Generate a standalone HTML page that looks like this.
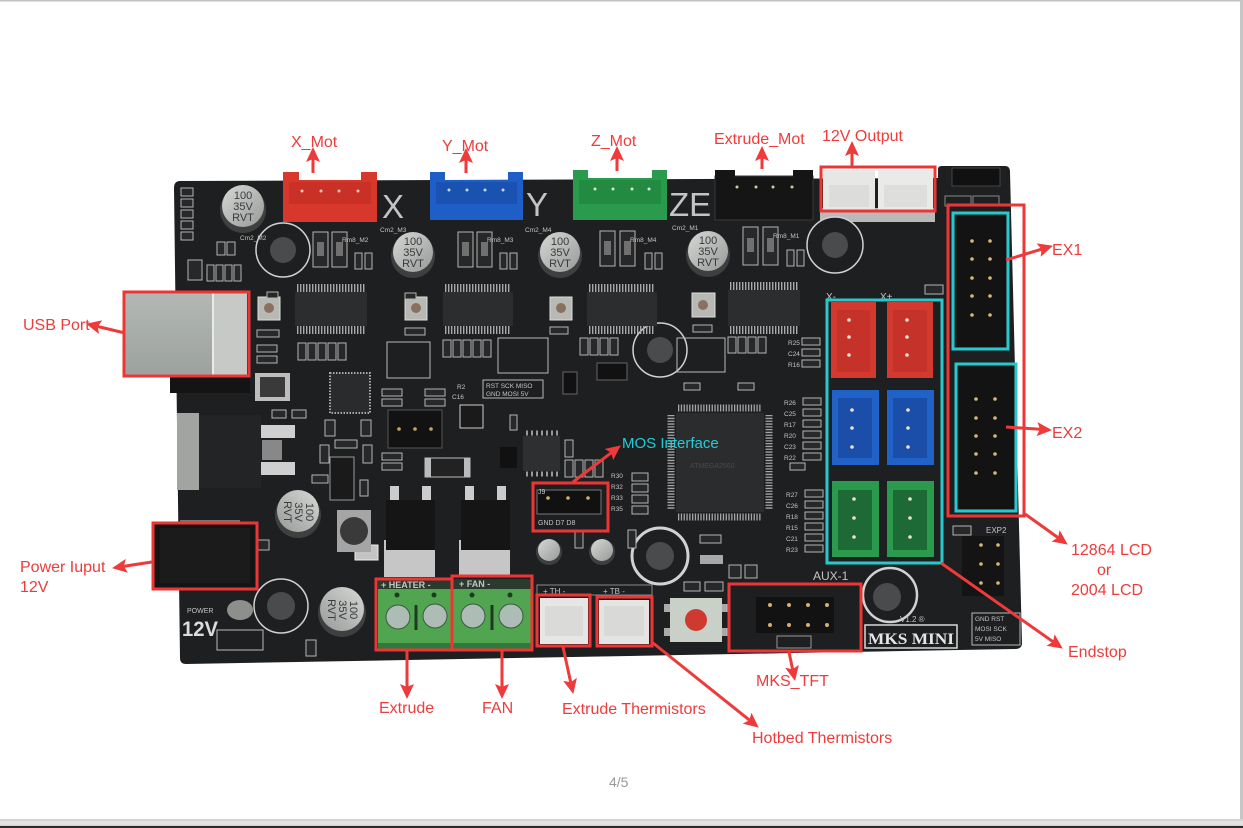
<!DOCTYPE html>
<html><head><meta charset="utf-8"><style>
html,body{margin:0;padding:0;background:#fff}
svg{display:block}
.lb{font-family:"Liberation Sans",sans-serif;font-size:16px;fill:#ee3b3b}
.sk{font-family:"Liberation Sans",sans-serif;fill:#c4c4c4}
.s{fill:#27282a;stroke:#b4b4b4;stroke-width:1}
.r{fill:#5e5e5e;stroke:#c9c9c9;stroke-width:1}
.bx{fill:none;stroke:#ee3535;stroke-width:3}
.cy{fill:none;stroke:#27c9cc;stroke-width:3}
.ar{stroke:#ee3a3a;stroke-width:3;fill:none}
</style></head><body>
<svg width="1243" height="828" viewBox="0 0 1243 828" xmlns="http://www.w3.org/2000/svg">
<defs>
<marker id="ah" markerUnits="userSpaceOnUse" markerWidth="16" markerHeight="14" refX="3" refY="7" orient="auto"><path d="M0,0 L15,7 L0,14 L3,7Z" fill="#ee3a3a"/></marker>
<linearGradient id="sv" x1="0" y1="0" x2="1" y2="1"><stop offset="0" stop-color="#d6d8d6"/><stop offset="1" stop-color="#979a98"/></linearGradient>
<linearGradient id="usb" x1="0" y1="0" x2="0" y2="1"><stop offset="0" stop-color="#b3b8b4"/><stop offset="1" stop-color="#9da29e"/></linearGradient>
</defs>
<rect width="1243" height="828" fill="#fff"/>
<rect x="0" y="0" width="1243" height="1.5" fill="#c2c2c2"/>
<rect x="1240" y="0" width="3" height="826" fill="#c6c6c6"/>
<rect x="0" y="819" width="1243" height="7" fill="#d3d3d3"/>
<rect x="0" y="821" width="1243" height="4" fill="#e2e2e2"/>
<rect x="0" y="826" width="1243" height="2" fill="#2a2a2a"/>

<!-- board -->
<path d="M180,181 L938,178 L938,169 Q938,166 942,166 L1005,166 Q1010,166 1010,172 L1022,643 Q1022,649 1015,649 L186,664 Q180,664 180,658 L174,188 Q174,181 180,181Z" fill="#1e1f21"/>

<!-- top connectors -->
<rect x="283" y="180" width="94" height="42" fill="#d8382c"/>
<rect x="283" y="172" width="16" height="12" fill="#d8382c"/><rect x="361" y="172" width="16" height="12" fill="#d8382c"/>
<rect x="289" y="182" width="82" height="22" fill="#c93126"/>
<g fill="#e8c8b8"><circle cx="302" cy="191" r="1.5"/><circle cx="321" cy="191" r="1.5"/><circle cx="339" cy="191" r="1.5"/><circle cx="358" cy="191" r="1.5"/></g>
<rect x="430" y="180" width="93" height="40" fill="#1f5ec6"/>
<rect x="430" y="172" width="15" height="12" fill="#1f5ec6"/><rect x="508" y="172" width="15" height="12" fill="#1f5ec6"/>
<rect x="436" y="182" width="81" height="22" fill="#1a52b2"/>
<g fill="#c8d4f0"><circle cx="449" cy="190" r="1.5"/><circle cx="467" cy="190" r="1.5"/><circle cx="485" cy="190" r="1.5"/><circle cx="503" cy="190" r="1.5"/></g>
<rect x="573" y="178" width="94" height="42" fill="#2a9a4c"/>
<rect x="573" y="170" width="15" height="12" fill="#2a9a4c"/><rect x="652" y="170" width="15" height="12" fill="#2a9a4c"/>
<rect x="579" y="180" width="82" height="24" fill="#238a42"/>
<g fill="#d0e8d0"><circle cx="595" cy="189" r="1.5"/><circle cx="613" cy="189" r="1.5"/><circle cx="632" cy="189" r="1.5"/><circle cx="649" cy="189" r="1.5"/></g>
<rect x="715" y="176" width="98" height="44" fill="#151516" stroke="#3a3a3a"/>
<rect x="715" y="170" width="20" height="10" fill="#151516"/><rect x="793" y="170" width="20" height="10" fill="#151516"/>
<g fill="#d8c8a8"><circle cx="737" cy="187" r="1.5"/><circle cx="756" cy="187" r="1.5"/><circle cx="773" cy="187" r="1.5"/><circle cx="792" cy="187" r="1.5"/></g>
<rect x="820" y="208" width="115" height="14" fill="#b9b9b9"/>
<rect x="823" y="170" width="52" height="40" fill="#e7e7e5"/>
<rect x="878" y="170" width="55" height="40" fill="#eaeae8"/>
<rect x="829" y="185" width="40" height="22" fill="#dcdcda"/><rect x="884" y="185" width="43" height="22" fill="#dededc"/>
<text class="sk" x="382" y="218" font-size="33">X</text>
<text class="sk" x="526" y="216" font-size="33">Y</text>
<text class="sk" x="669" y="216" font-size="33">ZE</text>

<!-- top right jumper -->
<rect x="952" y="168" width="48" height="18" fill="#111" stroke="#444"/>
<rect x="945" y="196" width="26" height="10" fill="none" stroke="#888"/><rect x="973" y="196" width="26" height="10" fill="none" stroke="#888"/>

<!-- mounting holes -->
<g stroke="#d2d2d2" stroke-width="1.5" fill="#1e1f21">
<circle cx="283" cy="250" r="27"/><circle cx="835" cy="245" r="28"/><circle cx="660" cy="350" r="27"/>
<circle cx="660" cy="556" r="28" stroke-width="3"/><circle cx="890" cy="595" r="27" stroke-width="2.5"/><circle cx="281" cy="606" r="27"/>
</g>
<g fill="#4a4b4c"><circle cx="283" cy="250" r="13"/><circle cx="835" cy="245" r="13"/><circle cx="660" cy="350" r="13"/><circle cx="660" cy="556" r="14"/><circle cx="887" cy="597" r="14"/><circle cx="281" cy="606" r="14"/></g>

<!-- capacitors -->
<g font-family="Liberation Sans,sans-serif" font-size="11" fill="#3a3a3a" text-anchor="middle">
<g transform="translate(243,207)"><circle cy="3" r="23" fill="#3e4040"/><circle cy="-1" r="21" fill="url(#sv)"/><text y="-8">100</text><text y="3">35V</text><text y="14">RVT</text></g>
<g transform="translate(413,253)"><circle cy="3" r="22" fill="#3e4040"/><circle cy="-1" r="20" fill="url(#sv)"/><text y="-8">100</text><text y="3">35V</text><text y="14">RVT</text></g>
<g transform="translate(560,253)"><circle cy="3" r="22" fill="#3e4040"/><circle cy="-1" r="20" fill="url(#sv)"/><text y="-8">100</text><text y="3">35V</text><text y="14">RVT</text></g>
<g transform="translate(708,252)"><circle cy="3" r="22" fill="#3e4040"/><circle cy="-1" r="20" fill="url(#sv)"/><text y="-8">100</text><text y="3">35V</text><text y="14">RVT</text></g>
<g transform="translate(298,512) rotate(90)"><circle cx="3" r="23" fill="#3e4040"/><circle cx="-1" r="21" fill="url(#sv)"/><text y="-8">100</text><text y="3">35V</text><text y="14">RVT</text></g>
<g transform="translate(342,610) rotate(90)"><circle cx="3" r="24" fill="#3e4040"/><circle cx="-1" r="22" fill="url(#sv)"/><text y="-8">100</text><text y="3">35V</text><text y="14">RVT</text></g>
</g>
<circle cx="549" cy="552" r="13" fill="#3e4040"/><circle cx="549" cy="550" r="11" fill="url(#sv)"/>
<circle cx="602" cy="552" r="13" fill="#3e4040"/><circle cx="602" cy="550" r="11" fill="url(#sv)"/>
<ellipse cx="240" cy="610" rx="13" ry="10" fill="#8d8f8d"/>

<!-- driver chips -->
<g>
<rect x="295" y="292" width="72" height="34" fill="#2c2d2f"/>
<rect x="443" y="292" width="70" height="34" fill="#2c2d2f"/>
<rect x="587" y="292" width="70" height="34" fill="#2c2d2f"/>
<rect x="728" y="290" width="72" height="36" fill="#2c2d2f"/>
</g>
<g stroke="#a9a9a9" stroke-width="8" stroke-dasharray="1.4 1.6">
<line x1="297" y1="288" x2="365" y2="288"/><line x1="297" y1="330" x2="365" y2="330"/>
<line x1="445" y1="288" x2="511" y2="288"/><line x1="445" y1="330" x2="511" y2="330"/>
<line x1="589" y1="288" x2="655" y2="288"/><line x1="589" y1="330" x2="655" y2="330"/>
<line x1="730" y1="286" x2="798" y2="286"/><line x1="730" y1="330" x2="798" y2="330"/>
</g>

<!-- MCU -->
<rect x="676" y="413" width="88" height="99" fill="#2b2c2e"/>
<g stroke="#a6a6a6" stroke-width="7" stroke-dasharray="1.3 1.5">
<line x1="678" y1="408" x2="762" y2="408"/><line x1="678" y1="517" x2="762" y2="517"/>
<line x1="671" y1="415" x2="671" y2="510"/><line x1="769" y1="415" x2="769" y2="510"/>
</g>
<text x="690" y="468" font-family="Liberation Sans,sans-serif" font-size="7" fill="#4a4a4a">ATMEGA2560</text>

<!-- small ICs -->
<rect x="330" y="373" width="40" height="40" fill="#2a2b2d" stroke="#aaa" stroke-dasharray="1.5 1.5" stroke-width="2"/>
<rect x="523" y="436" width="37" height="35" fill="#2e2f31"/>
<g stroke="#999" stroke-width="5" stroke-dasharray="2 3"><line x1="526" y1="433" x2="558" y2="433"/><line x1="526" y1="474" x2="558" y2="474"/></g>
<rect x="563" y="372" width="14" height="22" fill="#111" stroke="#666"/>
<rect x="597" y="363" width="30" height="17" fill="#111" stroke="#666"/>

<!-- trimmers -->
<g fill="#b8b8b4" stroke="#ddd"><rect x="258" y="297" width="22" height="23"/><rect x="405" y="297" width="22" height="23"/><rect x="550" y="297" width="22" height="23"/><rect x="692" y="293" width="23" height="24"/></g>
<g fill="#8a7060"><circle cx="269" cy="308" r="5"/><circle cx="416" cy="308" r="5"/><circle cx="561" cy="308" r="5"/><circle cx="703" cy="305" r="5"/></g>

<!-- big SMD near drivers -->
<g class="s">
<rect x="313" y="232" width="15" height="35"/><rect x="332" y="232" width="15" height="35"/>
<rect x="458" y="232" width="15" height="35"/><rect x="477" y="232" width="15" height="35"/>
<rect x="600" y="231" width="15" height="35"/><rect x="620" y="231" width="15" height="35"/>
<rect x="743" y="227" width="15" height="38"/><rect x="763" y="227" width="15" height="38"/>
</g>
<g fill="#707070"><rect x="317" y="242" width="7" height="14"/><rect x="336" y="242" width="7" height="14"/><rect x="462" y="242" width="7" height="14"/><rect x="481" y="242" width="7" height="14"/><rect x="604" y="241" width="7" height="14"/><rect x="624" y="241" width="7" height="14"/><rect x="747" y="238" width="7" height="14"/><rect x="767" y="238" width="7" height="14"/></g>

<!-- small SMD scatter -->
<g class="s">
<rect x="181" y="188" width="12" height="8"/><rect x="181" y="199" width="12" height="8"/><rect x="181" y="210" width="12" height="8"/><rect x="181" y="221" width="12" height="8"/><rect x="181" y="232" width="12" height="8"/>
<rect x="217" y="242" width="8" height="13"/><rect x="227" y="242" width="8" height="13"/>
<rect x="188" y="260" width="14" height="20"/>
<rect x="207" y="265" width="7" height="16"/><rect x="216" y="265" width="7" height="16"/><rect x="225" y="265" width="7" height="16"/><rect x="234" y="265" width="7" height="16"/>
<rect x="355" y="253" width="7" height="16"/><rect x="365" y="253" width="7" height="16"/>
<rect x="500" y="253" width="7" height="16"/><rect x="510" y="253" width="7" height="16"/>
<rect x="645" y="253" width="7" height="16"/><rect x="655" y="253" width="7" height="16"/>
<rect x="787" y="250" width="7" height="16"/><rect x="797" y="250" width="7" height="16"/>
<rect x="267" y="292" width="11" height="6"/><rect x="405" y="293" width="11" height="6"/>
<rect x="257" y="330" width="22" height="7"/><rect x="257" y="345" width="20" height="7"/><rect x="257" y="356" width="20" height="7"/>
<rect x="405" y="328" width="20" height="7"/><rect x="550" y="327" width="18" height="7"/><rect x="693" y="325" width="19" height="7"/>
<rect x="298" y="343" width="8" height="17"/><rect x="308" y="343" width="8" height="17"/><rect x="318" y="343" width="8" height="17"/><rect x="328" y="343" width="8" height="17"/><rect x="338" y="343" width="8" height="17"/>
<rect x="443" y="340" width="8" height="17"/><rect x="453" y="340" width="8" height="17"/><rect x="463" y="340" width="8" height="17"/><rect x="473" y="340" width="8" height="17"/><rect x="483" y="340" width="8" height="17"/>
<rect x="580" y="338" width="8" height="17"/><rect x="590" y="338" width="8" height="17"/><rect x="600" y="338" width="8" height="17"/><rect x="610" y="338" width="8" height="17"/>
<rect x="728" y="337" width="8" height="16"/><rect x="738" y="337" width="8" height="16"/><rect x="748" y="337" width="8" height="16"/><rect x="758" y="337" width="8" height="16"/>
<rect x="382" y="389" width="20" height="7"/><rect x="382" y="399" width="20" height="7"/>
<rect x="425" y="389" width="20" height="7"/><rect x="425" y="399" width="20" height="7"/>
<rect x="382" y="453" width="20" height="7"/><rect x="382" y="463" width="20" height="7"/>
<rect x="510" y="415" width="7" height="15"/>
<rect x="565" y="440" width="8" height="17"/><rect x="575" y="460" width="8" height="17"/><rect x="585" y="460" width="8" height="17"/><rect x="595" y="460" width="8" height="17"/><rect x="565" y="460" width="8" height="17"/>
<rect x="632" y="473" width="16" height="8"/><rect x="632" y="484" width="16" height="8"/><rect x="632" y="495" width="16" height="8"/><rect x="632" y="506" width="16" height="8"/>
<rect x="802" y="338" width="18" height="7"/><rect x="802" y="349" width="18" height="7"/><rect x="802" y="360" width="18" height="7"/>
<rect x="803" y="398" width="18" height="7"/><rect x="803" y="409" width="18" height="7"/><rect x="803" y="420" width="18" height="7"/><rect x="803" y="431" width="18" height="7"/><rect x="803" y="442" width="18" height="7"/><rect x="803" y="453" width="18" height="7"/>
<rect x="790" y="463" width="15" height="7"/>
<rect x="805" y="490" width="18" height="7"/><rect x="805" y="501" width="18" height="7"/><rect x="805" y="512" width="18" height="7"/><rect x="805" y="523" width="18" height="7"/><rect x="805" y="534" width="18" height="7"/><rect x="805" y="545" width="18" height="7"/>
<rect x="684" y="383" width="16" height="7"/><rect x="738" y="383" width="16" height="7"/>
<rect x="700" y="535" width="21" height="8"/><rect x="729" y="565" width="12" height="13"/><rect x="745" y="565" width="12" height="13"/>
<rect x="684" y="582" width="16" height="9"/><rect x="705" y="582" width="18" height="9"/>
<rect x="272" y="410" width="14" height="8"/><rect x="292" y="410" width="14" height="8"/>
<rect x="325" y="420" width="10" height="16"/><rect x="361" y="420" width="10" height="16"/>
<rect x="320" y="445" width="9" height="18"/><rect x="363" y="445" width="9" height="18"/><rect x="335" y="440" width="22" height="8"/>
<rect x="312" y="475" width="16" height="8"/><rect x="360" y="480" width="8" height="16"/>
<rect x="575" y="530" width="8" height="18"/><rect x="628" y="530" width="8" height="18"/>
<rect x="253" y="540" width="16" height="10"/>
<rect x="925" y="285" width="18" height="9"/>
<rect x="953" y="526" width="18" height="9"/>
<rect x="306" y="640" width="10" height="16"/>
</g>
<rect x="700" y="555" width="23" height="9" fill="#a8a8a8"/>
<rect x="355" y="545" width="23" height="15" fill="#c4c4c4" stroke="#eee"/>
<rect x="217" y="630" width="46" height="20" fill="#1e1f21" stroke="#bbb"/>

<!-- silk text boxes -->
<g fill="none" stroke="#b8b8b8"><rect x="387" y="342" width="43" height="36"/><rect x="498" y="338" width="50" height="35"/><rect x="677" y="338" width="48" height="34"/><rect x="483" y="380" width="60" height="18"/><rect x="972" y="613" width="48" height="32"/><rect x="865" y="625" width="92" height="23" stroke="#d8d8d8" stroke-width="1.5"/></g>
<g class="sk" font-size="6.5"><text x="486" y="388">RST SCK MISO</text><text x="486" y="396">GND MOSI 5V</text><text x="975" y="621">GND RST</text><text x="975" y="631">MOSI SCK</text><text x="975" y="641">5V  MISO</text>
<text x="342" y="242">Rm8_M2</text><text x="487" y="242">Rm8_M3</text><text x="630" y="242">Rm8_M4</text><text x="773" y="238">Rm8_M1</text>
<text x="240" y="240">Cm2_M2</text><text x="380" y="232">Cm2_M3</text><text x="525" y="232">Cm2_M4</text><text x="672" y="230">Cm2_M1</text>
<text x="788" y="345">R25</text><text x="788" y="356">C24</text><text x="788" y="367">R16</text>
<text x="784" y="405">R26</text><text x="784" y="416">C25</text><text x="784" y="427">R17</text><text x="784" y="438">R20</text><text x="784" y="449">C23</text><text x="784" y="460">R22</text>
<text x="786" y="497">R27</text><text x="786" y="508">C26</text><text x="786" y="519">R18</text><text x="786" y="530">R15</text><text x="786" y="541">C21</text><text x="786" y="552">R23</text>
<text x="611" y="478">R30</text><text x="611" y="489">R32</text><text x="611" y="500">R33</text><text x="611" y="511">R35</text>
<text x="400" y="416">ISP1</text><text x="457" y="389">R2</text><text x="452" y="399">C16</text>
</g>
<text class="sk" x="813" y="580" font-size="12">AUX-1</text>
<text class="sk" x="986" y="533" font-size="8">EXP2</text>
<text class="sk" x="900" y="622" font-size="8">V1.2 ®</text>
<text x="868" y="644" font-family="Liberation Serif,serif" font-weight="bold" font-size="16" fill="#e6e6e6" textLength="86" lengthAdjust="spacingAndGlyphs">MKS MINI</text>
<text class="sk" x="187" y="613" font-size="7">POWER</text>
<text x="182" y="636" font-family="Liberation Sans,sans-serif" font-weight="bold" font-size="21" fill="#dcdcdc" textLength="36" lengthAdjust="spacingAndGlyphs">12V</text>

<!-- USB -->
<rect x="170" y="375" width="80" height="18" fill="#141414"/>
<rect x="125" y="293" width="88" height="82" fill="url(#usb)"/>
<rect x="213" y="293" width="34" height="82" fill="#c6c9c6"/>
<rect x="212" y="293" width="2" height="82" fill="#e8ebe8"/>

<!-- U3 regulator -->
<rect x="177" y="413" width="22" height="77" fill="#a2a4a2"/>
<rect x="199" y="415" width="62" height="73" fill="#232425"/>
<rect x="261" y="425" width="34" height="13" fill="#cfcfcf"/><rect x="261" y="462" width="34" height="13" fill="#cfcfcf"/>
<rect x="262" y="440" width="20" height="20" fill="#888"/>
<rect x="255" y="373" width="35" height="28" fill="#bdbdbd"/><rect x="260" y="377" width="25" height="20" fill="#3a3a3a"/>
<rect x="330" y="457" width="24" height="43" fill="#1a1a1a" stroke="#999"/>

<!-- inductor -->
<rect x="337" y="510" width="34" height="42" fill="#a5a5a5"/><circle cx="354" cy="531" r="14" fill="#3a3a3a"/>

<!-- power jack -->
<rect x="180" y="520" width="60" height="8" fill="#777"/>
<rect x="153" y="523" width="104" height="67" fill="#141414"/>
<rect x="160" y="528" width="90" height="55" fill="#1b1b1b"/>

<!-- ISP header & fuse -->
<rect x="388" y="410" width="54" height="38" fill="#121212" stroke="#555"/>
<g fill="#c8a860"><circle cx="399" cy="429" r="1.8"/><circle cx="415" cy="429" r="1.8"/><circle cx="431" cy="429" r="1.8"/></g>
<rect x="460" y="405" width="23" height="23" fill="#1a1a1a" stroke="#ccc"/>
<rect x="425" y="458" width="45" height="19" fill="#222" stroke="#bbb"/>
<rect x="425" y="458" width="6" height="19" fill="#bbb"/><rect x="464" y="458" width="6" height="19" fill="#bbb"/>
<rect x="500" y="447" width="17" height="21" fill="#111"/>

<!-- MOSFETs -->
<rect x="384" y="540" width="51" height="37" fill="#c6c6c6"/>
<rect x="386" y="500" width="49" height="50" fill="#151515"/>
<rect x="390" y="486" width="9" height="14" fill="#ccc"/><rect x="422" y="486" width="9" height="14" fill="#ccc"/>
<rect x="459" y="540" width="51" height="37" fill="#c6c6c6"/>
<rect x="461" y="500" width="49" height="50" fill="#151515"/>
<rect x="465" y="486" width="9" height="14" fill="#ccc"/><rect x="497" y="486" width="9" height="14" fill="#ccc"/>

<!-- J9 MOS header -->
<rect x="537" y="490" width="64" height="24" fill="#111" stroke="#777"/>
<g fill="#d0b070"><circle cx="548" cy="498" r="1.8"/><circle cx="568" cy="498" r="1.8"/><circle cx="588" cy="498" r="1.8"/></g>
<g class="sk" font-size="7"><text x="538" y="525">GND D7 D8</text><text x="538" y="494">J9</text></g>

<!-- terminal blocks -->
<rect x="378" y="579" width="155" height="11" fill="#2a3a2c"/>
<rect x="378" y="589" width="155" height="58" fill="#51a550"/>
<rect x="378" y="643" width="155" height="6" fill="#2e7a3a"/>
<line x1="452" y1="589" x2="452" y2="648" stroke="#2d6a32" stroke-width="2"/>
<g fill="#1e3a20"><circle cx="397" cy="595" r="2.5"/><circle cx="434" cy="595" r="2.5"/><circle cx="472" cy="595" r="2.5"/><circle cx="510" cy="595" r="2.5"/></g>
<g fill="#aebcb6" stroke="#3a5a40"><circle cx="398" cy="617" r="12"/><circle cx="435" cy="616" r="12"/><circle cx="473" cy="616" r="12"/><circle cx="511" cy="616" r="12"/></g>
<g stroke="#1d3a20" stroke-width="3"><line x1="416" y1="605" x2="416" y2="630"/><line x1="492" y1="605" x2="492" y2="630"/></g>
<g class="sk" font-size="9" font-weight="bold" fill="#e0e0e0"><text x="381" y="588">+ HEATER -</text><text x="459" y="587">+  FAN   -</text></g>

<!-- thermistor connectors -->
<rect x="537" y="585" width="115" height="10" fill="#1e1f21" stroke="#888"/>
<rect x="540" y="598" width="48" height="46" fill="#e6e6e4"/>
<rect x="599" y="600" width="50" height="44" fill="#e4e4e2"/>
<rect x="545" y="606" width="38" height="30" fill="#dadad8"/><rect x="604" y="606" width="40" height="30" fill="#d9d9d7"/>
<g class="sk" font-size="8"><text x="543" y="594">+ TH -</text><text x="603" y="594">+ TB -</text></g>

<!-- reset button -->
<rect x="664" y="604" width="64" height="8" fill="#aaa"/><rect x="664" y="628" width="64" height="8" fill="#aaa"/>
<rect x="670" y="598" width="52" height="44" fill="#c8d0c8"/>
<circle cx="696" cy="620" r="11" fill="#cf3a30"/>

<!-- AUX header -->
<rect x="756" y="597" width="78" height="36" fill="#121212"/>
<g fill="#d4b070"><circle cx="770" cy="605" r="2"/><circle cx="789" cy="605" r="2"/><circle cx="808" cy="605" r="2"/><circle cx="827" cy="605" r="2"/><circle cx="770" cy="625" r="2"/><circle cx="789" cy="625" r="2"/><circle cx="808" cy="625" r="2"/><circle cx="827" cy="625" r="2"/></g>
<rect x="777" y="636" width="34" height="12" fill="none" stroke="#999"/>

<!-- endstops -->
<rect x="831" y="302" width="45" height="76" fill="#d4392f"/><rect x="837" y="310" width="33" height="62" fill="#c5322a"/>
<rect x="887" y="302" width="46" height="76" fill="#d4392f"/><rect x="893" y="310" width="34" height="62" fill="#c5322a"/>
<rect x="832" y="390" width="47" height="75" fill="#2162c8"/><rect x="838" y="398" width="34" height="60" fill="#1a4ea8"/>
<rect x="887" y="390" width="47" height="75" fill="#2162c8"/><rect x="893" y="398" width="34" height="60" fill="#1a4ea8"/>
<rect x="832" y="481" width="47" height="76" fill="#2a9a4c"/><rect x="838" y="490" width="34" height="60" fill="#1d6a36"/>
<rect x="887" y="481" width="47" height="76" fill="#2a9a4c"/><rect x="893" y="490" width="34" height="60" fill="#1d6a36"/>
<g fill="#f0e0d0"><circle cx="849" cy="320" r="1.8"/><circle cx="849" cy="337" r="1.8"/><circle cx="849" cy="355" r="1.8"/><circle cx="907" cy="320" r="1.8"/><circle cx="907" cy="337" r="1.8"/><circle cx="907" cy="355" r="1.8"/>
<circle cx="852" cy="410" r="1.8"/><circle cx="852" cy="428" r="1.8"/><circle cx="852" cy="447" r="1.8"/><circle cx="908" cy="410" r="1.8"/><circle cx="908" cy="428" r="1.8"/><circle cx="908" cy="447" r="1.8"/>
<circle cx="854" cy="499" r="1.8"/><circle cx="854" cy="518" r="1.8"/><circle cx="854" cy="537" r="1.8"/><circle cx="910" cy="499" r="1.8"/><circle cx="910" cy="518" r="1.8"/><circle cx="910" cy="537" r="1.8"/></g>
<g class="sk" font-size="10"><text x="826" y="300">X-</text><text x="880" y="300">X+</text></g>

<!-- EXP headers -->
<rect x="957" y="216" width="49" height="131" fill="#131314"/>
<rect x="959" y="367" width="55" height="142" fill="#131314"/>
<g fill="#d8b878"><circle cx="972" cy="241" r="1.8"/><circle cx="990" cy="241" r="1.8"/><circle cx="972" cy="259" r="1.8"/><circle cx="990" cy="259" r="1.8"/><circle cx="972" cy="278" r="1.8"/><circle cx="990" cy="278" r="1.8"/><circle cx="972" cy="296" r="1.8"/><circle cx="990" cy="296" r="1.8"/><circle cx="972" cy="315" r="1.8"/><circle cx="990" cy="315" r="1.8"/>
<circle cx="976" cy="399" r="1.8"/><circle cx="995" cy="399" r="1.8"/><circle cx="976" cy="418" r="1.8"/><circle cx="995" cy="418" r="1.8"/><circle cx="976" cy="436" r="1.8"/><circle cx="995" cy="436" r="1.8"/><circle cx="976" cy="454" r="1.8"/><circle cx="995" cy="454" r="1.8"/><circle cx="976" cy="473" r="1.8"/><circle cx="995" cy="473" r="1.8"/></g>
<rect x="962" y="536" width="42" height="60" fill="#141414"/>
<g fill="#d8b878"><circle cx="981" cy="545" r="1.8"/><circle cx="998" cy="545" r="1.8"/><circle cx="981" cy="564" r="1.8"/><circle cx="998" cy="564" r="1.8"/><circle cx="981" cy="583" r="1.8"/><circle cx="998" cy="583" r="1.8"/></g>

<!-- annotation boxes -->
<rect class="bx" x="124" y="292" width="125" height="84"/>
<rect class="bx" x="821" y="167" width="114" height="44"/>
<rect class="bx" x="948" y="205" width="76" height="311"/>
<rect class="bx" x="153" y="523" width="104" height="66"/>
<rect class="bx" x="376" y="579" width="76" height="71"/>
<rect class="bx" x="452" y="576" width="80" height="74"/>
<rect class="bx" x="537" y="595" width="53" height="51"/>
<rect class="bx" x="597" y="597" width="55" height="49"/>
<rect class="bx" x="729" y="584" width="132" height="67"/>
<rect class="bx" x="533" y="483" width="75" height="48"/>
<rect class="cy" x="827" y="300" width="115" height="263"/>
<rect class="cy" x="953" y="213" width="55" height="136"/>
<rect class="cy" x="956" y="364" width="60" height="147"/>

<!-- arrows -->
<g class="ar" marker-end="url(#ah)">
<line x1="313" y1="173" x2="313" y2="159"/>
<line x1="466" y1="173" x2="466" y2="160"/>
<line x1="617" y1="171" x2="617" y2="158"/>
<line x1="762" y1="169" x2="762" y2="158"/>
<line x1="852" y1="167" x2="852" y2="153"/>
<line x1="125" y1="333" x2="97.7" y2="326.5"/>
<line x1="1006" y1="260" x2="1041.5" y2="249.2"/>
<line x1="1006" y1="427" x2="1040" y2="429.3"/>
<line x1="1025" y1="514" x2="1058" y2="537.6"/>
<line x1="941" y1="563" x2="1053" y2="641.7"/>
<line x1="152" y1="562" x2="123.9" y2="566.3"/>
<line x1="407" y1="650" x2="407" y2="687"/>
<line x1="502" y1="650" x2="502" y2="687"/>
<line x1="563" y1="647" x2="570.7" y2="682.3"/>
<line x1="653" y1="643" x2="749.4" y2="720.1"/>
<line x1="789" y1="652" x2="792.6" y2="669.3"/>
<line x1="573" y1="482" x2="611.3" y2="452.7"/>
</g>

<!-- labels -->
<g class="lb">
<text x="291" y="147">X_Mot</text>
<text x="442" y="151">Y_Mot</text>
<text x="591" y="146">Z_Mot</text>
<text x="714" y="144">Extrude_Mot</text>
<text x="822" y="141">12V Output</text>
<text x="23" y="330">USB Port</text>
<text x="1052" y="255">EX1</text>
<text x="1052" y="438">EX2</text>
<text x="1071" y="555">12864 LCD</text>
<text x="1097" y="575">or</text>
<text x="1071" y="595">2004 LCD</text>
<text x="1068" y="657">Endstop</text>
<text x="20" y="572">Power Iuput</text>
<text x="20" y="592">12V</text>
<text x="379" y="713">Extrude</text>
<text x="482" y="713">FAN</text>
<text x="562" y="714">Extrude Thermistors</text>
<text x="752" y="743">Hotbed Thermistors</text>
<text x="756" y="686">MKS_TFT</text>
</g>
<text x="622" y="448" font-family="Liberation Sans,sans-serif" font-size="15" fill="#22cdd6">MOS Interface</text>
<text x="609" y="787" font-family="Liberation Sans,sans-serif" font-size="14" fill="#999">4/5</text>
</svg>
</body></html>
